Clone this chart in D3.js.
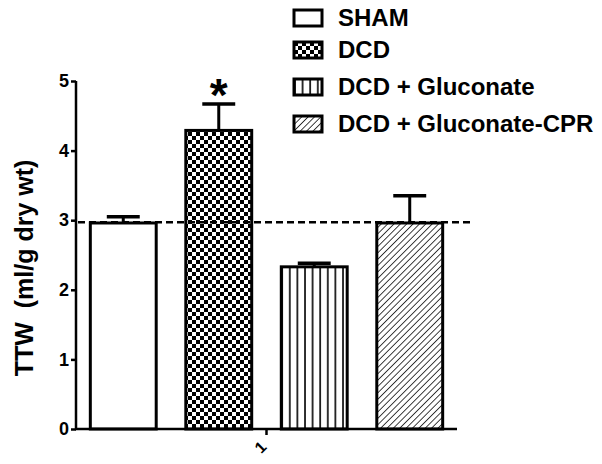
<!DOCTYPE html>
<html>
<head>
<meta charset="utf-8">
<script src="https://cdn.jsdelivr.net/npm/d3@7"></script>
<style>
  body { margin: 0; background: #fff; }
  svg { display: block; font-family: "Liberation Sans", Arial, sans-serif; font-weight: bold; }
</style>
</head>
<body>
<svg id="chart" width="602" height="464"></svg>
<script>
// data
const groups = ['SHAM', 'DCD', 'DCD + Gluconate', 'DCD + Gluconate-CPR'];
const means = [2.96, 4.29, 2.33, 2.96];
const errors = [0.09, 0.38, 0.05, 0.39];
const significant = [false, true, false, false];
const yTicks = [0, 1, 2, 3, 4, 5];
const xTickLabel = '1';
const refLine = 2.97;

const svg = d3.select('#chart');
const defs = svg.append('defs');

// fill patterns
const checker = defs.append('pattern').attr('id', 'p1')
  .attr('patternUnits', 'userSpaceOnUse').attr('width', 8).attr('height', 8);
checker.append('rect').attr('width', 8).attr('height', 8).attr('fill', '#fff');
checker.append('rect').attr('width', 4).attr('height', 4).attr('fill', '#000');
checker.append('rect').attr('x', 4).attr('y', 4).attr('width', 4).attr('height', 4).attr('fill', '#000');

const vert = defs.append('pattern').attr('id', 'p2')
  .attr('patternUnits', 'userSpaceOnUse').attr('width', 7.6).attr('height', 10);
vert.append('rect').attr('width', 7.6).attr('height', 10).attr('fill', '#fff');
vert.append('line').attr('x1', 1).attr('x2', 1).attr('y1', 0).attr('y2', 10)
  .attr('stroke', '#000').attr('stroke-width', 1.6);

const hatch = defs.append('pattern').attr('id', 'p3')
  .attr('patternUnits', 'userSpaceOnUse').attr('width', 4.5).attr('height', 4.5)
  .attr('patternTransform', 'rotate(45)');
hatch.append('rect').attr('width', 4.5).attr('height', 4.5).attr('fill', '#fff');
hatch.append('line').attr('x1', 0).attr('x2', 0).attr('y1', 0).attr('y2', 4.5)
  .attr('stroke', '#000').attr('stroke-width', 1.5);

const fills = ['#fff', 'url(#p1)', 'url(#p2)', 'url(#p3)'];

const x = d3.scaleBand().domain(groups).range([76, 457])
  .paddingInner(0.31).paddingOuter(0.15);
const y = d3.scaleLinear().domain([0, 5]).range([429, 81]);

// bars
svg.selectAll('.bar').data(groups).enter().append('rect')
  .attr('class', 'bar')
  .attr('x', d => x(d))
  .attr('y', (d, i) => y(means[i]))
  .attr('width', x.bandwidth())
  .attr('height', (d, i) => y(0) - y(means[i]))
  .attr('fill', (d, i) => fills[i])
  .attr('stroke', '#000').attr('stroke-width', 3);

// error bars (upper only)
const eb = svg.selectAll('.err').data(groups).enter().append('g').attr('class', 'err');
eb.append('line')
  .attr('x1', d => x(d) + x.bandwidth() / 2).attr('x2', d => x(d) + x.bandwidth() / 2)
  .attr('y1', (d, i) => y(means[i])).attr('y2', (d, i) => y(means[i] + errors[i]))
  .attr('stroke', '#000').attr('stroke-width', 3);
eb.append('line')
  .attr('x1', d => x(d) + x.bandwidth() / 4).attr('x2', d => x(d) + x.bandwidth() * 3 / 4)
  .attr('y1', (d, i) => y(means[i] + errors[i])).attr('y2', (d, i) => y(means[i] + errors[i]))
  .attr('stroke', '#000').attr('stroke-width', 3.5);

// significance star
svg.selectAll('.star').data(groups.filter((d, i) => significant[i])).enter().append('text')
  .attr('x', d => x(d) + x.bandwidth() / 2)
  .attr('y', d => { const i = groups.indexOf(d); return y(means[i] + errors[i]) + 7; })
  .attr('text-anchor', 'middle').attr('font-size', 46).text('*');

// reference dashed line
svg.append('line')
  .attr('x1', 78).attr('x2', 470)
  .attr('y1', y(refLine)).attr('y2', y(refLine))
  .attr('stroke', '#000').attr('stroke-width', 2.5).attr('stroke-dasharray', '7,4');

// y axis
const yAxis = svg.append('g').attr('transform', 'translate(76,0)')
  .call(d3.axisLeft(y).tickValues(yTicks).tickFormat(d3.format('d')).tickSize(5).tickPadding(2));
yAxis.select('.domain').attr('stroke', '#000').attr('stroke-width', 2.5).attr('d', `M0,${y(5)}V${y(0)}`);
yAxis.selectAll('.tick line').attr('stroke-width', 2.5);
yAxis.selectAll('.tick text').attr('font-size', 18).attr('font-weight', 'bold')
  .attr('font-family', '"Liberation Sans", Arial, sans-serif').attr('fill', '#000');

// x axis
const xMid = (76 + 457) / 2;
svg.append('line').attr('x1', 75).attr('x2', 457).attr('y1', y(0)).attr('y2', y(0))
  .attr('stroke', '#000').attr('stroke-width', 2.5);
svg.append('line').attr('x1', xMid).attr('x2', xMid).attr('y1', y(0)).attr('y2', y(0) + 6)
  .attr('stroke', '#000').attr('stroke-width', 2.5);
svg.append('text')
  .attr('transform', `translate(${xMid - 2},${y(0) + 22}) rotate(-45)`)
  .attr('text-anchor', 'middle').attr('font-size', 16).text(xTickLabel);

// y label
svg.append('text')
  .attr('transform', 'translate(33,268) rotate(-90)')
  .attr('text-anchor', 'middle').attr('font-size', 25)
  .attr('xml:space', 'preserve')
  .text('TTW  (ml/g dry wt)');

// legend
const legendY = [18, 50, 87, 124];
const lg = svg.selectAll('.leg').data(groups).enter().append('g')
  .attr('class', 'leg')
  .attr('transform', (d, i) => `translate(294,${legendY[i]})`);
lg.append('rect').attr('x', 0).attr('y', -8).attr('width', 28).attr('height', 16)
  .attr('fill', (d, i) => fills[i]).attr('stroke', '#000').attr('stroke-width', 3);
lg.append('text').attr('x', 44).attr('y', 8).attr('font-size', 24).text(d => d);
</script>
</body>
</html>
